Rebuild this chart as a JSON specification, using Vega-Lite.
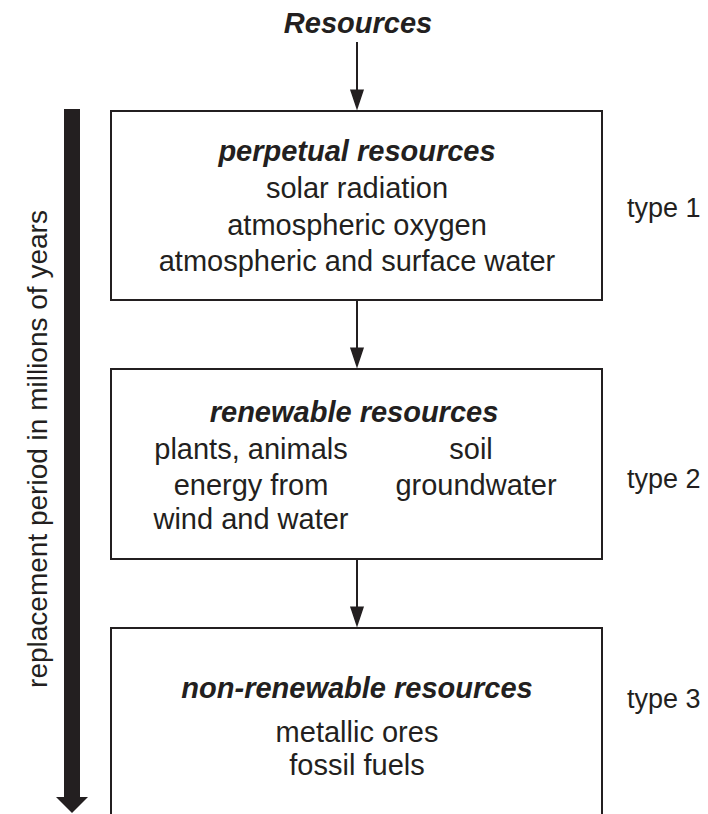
{
  "$schema": "https://vega.github.io/schema/vega-lite/v6.json",
  "width": 708,
  "height": 814,
  "autosize": {"type": "fit", "contains": "padding"},
  "padding": 0,
  "background": "white",
  "config": {"view": {"stroke": null}},
  "datasets": {
    "boxes": [
      {"box": "perpetual", "left": 111, "right": 602, "top": 111, "bottom": 300},
      {"box": "renewable", "left": 111, "right": 602, "top": 369, "bottom": 559},
      {"box": "non-renewable", "left": 111, "right": 602, "top": 628, "bottom": 840}
    ],
    "arrows": [
      {"cx": 357, "from": 42, "to": 100},
      {"cx": 357, "from": 300, "to": 358},
      {"cx": 357, "from": 559, "to": 617}
    ],
    "timeline": [
      {"left": 64, "right": 80, "top": 109, "bottom": 798, "tip": 805}
    ],
    "titles": [
      {"label": "Resources", "cx": 358, "cy": 24},
      {"label": "perpetual resources", "cx": 357, "cy": 152},
      {"label": "renewable resources", "cx": 354, "cy": 413},
      {"label": "non-renewable resources", "cx": 357, "cy": 689}
    ],
    "items": [
      {"label": "solar radiation", "cx": 357, "cy": 189},
      {"label": "atmospheric oxygen", "cx": 357, "cy": 226},
      {"label": "atmospheric and surface water", "cx": 357, "cy": 262},
      {"label": "plants, animals", "cx": 251, "cy": 450},
      {"label": "soil", "cx": 471, "cy": 450},
      {"label": "energy from", "cx": 251, "cy": 486},
      {"label": "groundwater", "cx": 476, "cy": 486},
      {"label": "wind and water", "cx": 251, "cy": 520},
      {"label": "metallic ores", "cx": 357, "cy": 733},
      {"label": "fossil fuels", "cx": 357, "cy": 766}
    ],
    "types": [
      {"label": "type 1", "cx": 627, "cy": 209},
      {"label": "type 2", "cx": 627, "cy": 480},
      {"label": "type 3", "cx": 627, "cy": 700}
    ],
    "side": [
      {"label": "replacement period in millions of years", "cx": 39, "cy": 449}
    ]
  },
  "layer": [
    {
      "data": {"name": "boxes"},
      "mark": {"type": "rect", "fill": "white", "stroke": "#231f20", "strokeWidth": 2, "clip": true},
      "encoding": {
        "x": {"field": "left", "type": "quantitative", "scale": {"domain": [0, 708], "nice": false, "zero": false}, "axis": null},
        "x2": {"field": "right"},
        "y": {"field": "top", "type": "quantitative", "scale": {"domain": [0, 814], "nice": false, "zero": false, "reverse": true}, "axis": null},
        "y2": {"field": "bottom"}
      }
    },
    {
      "data": {"name": "arrows"},
      "mark": {"type": "rule", "stroke": "#231f20", "strokeWidth": 2},
      "encoding": {
        "x": {"field": "cx", "type": "quantitative"},
        "y": {"field": "from", "type": "quantitative"},
        "y2": {"field": "to"}
      }
    },
    {
      "data": {"name": "arrows"},
      "mark": {"type": "point", "shape": "M-0.67,-1L0.67,-1L0,1Z", "filled": true, "fill": "#231f20", "stroke": null, "size": 441, "opacity": 1},
      "encoding": {
        "x": {"field": "cx", "type": "quantitative"},
        "y": {"field": "to", "type": "quantitative"}
      }
    },
    {
      "data": {"name": "timeline"},
      "mark": {"type": "rect", "fill": "#231f20"},
      "encoding": {
        "x": {"field": "left", "type": "quantitative"},
        "x2": {"field": "right"},
        "y": {"field": "top", "type": "quantitative"},
        "y2": {"field": "bottom"}
      }
    },
    {
      "data": {"name": "timeline"},
      "mark": {"type": "point", "shape": "M-1,-0.5L1,-0.5L0,0.5Z", "filled": true, "fill": "#231f20", "stroke": null, "size": 1024, "opacity": 1},
      "encoding": {
        "x": {"datum": 72, "type": "quantitative"},
        "y": {"field": "tip", "type": "quantitative"}
      }
    },
    {
      "data": {"name": "titles"},
      "mark": {"type": "text", "font": "Liberation Sans", "fontSize": 29, "fontWeight": "bold", "fontStyle": "italic", "align": "center", "baseline": "middle", "fill": "#231f20"},
      "encoding": {
        "x": {"field": "cx", "type": "quantitative"},
        "y": {"field": "cy", "type": "quantitative"},
        "text": {"field": "label"}
      }
    },
    {
      "data": {"name": "items"},
      "mark": {"type": "text", "font": "Liberation Sans", "fontSize": 29, "align": "center", "baseline": "middle", "fill": "#231f20"},
      "encoding": {
        "x": {"field": "cx", "type": "quantitative"},
        "y": {"field": "cy", "type": "quantitative"},
        "text": {"field": "label"}
      }
    },
    {
      "data": {"name": "types"},
      "mark": {"type": "text", "font": "Liberation Sans", "fontSize": 27, "align": "left", "baseline": "middle", "fill": "#231f20"},
      "encoding": {
        "x": {"field": "cx", "type": "quantitative"},
        "y": {"field": "cy", "type": "quantitative"},
        "text": {"field": "label"}
      }
    },
    {
      "data": {"name": "side"},
      "mark": {"type": "text", "font": "Liberation Sans", "fontSize": 28, "align": "center", "baseline": "middle", "angle": 270, "fill": "#231f20"},
      "encoding": {
        "x": {"field": "cx", "type": "quantitative"},
        "y": {"field": "cy", "type": "quantitative"},
        "text": {"field": "label"}
      }
    }
  ]
}
